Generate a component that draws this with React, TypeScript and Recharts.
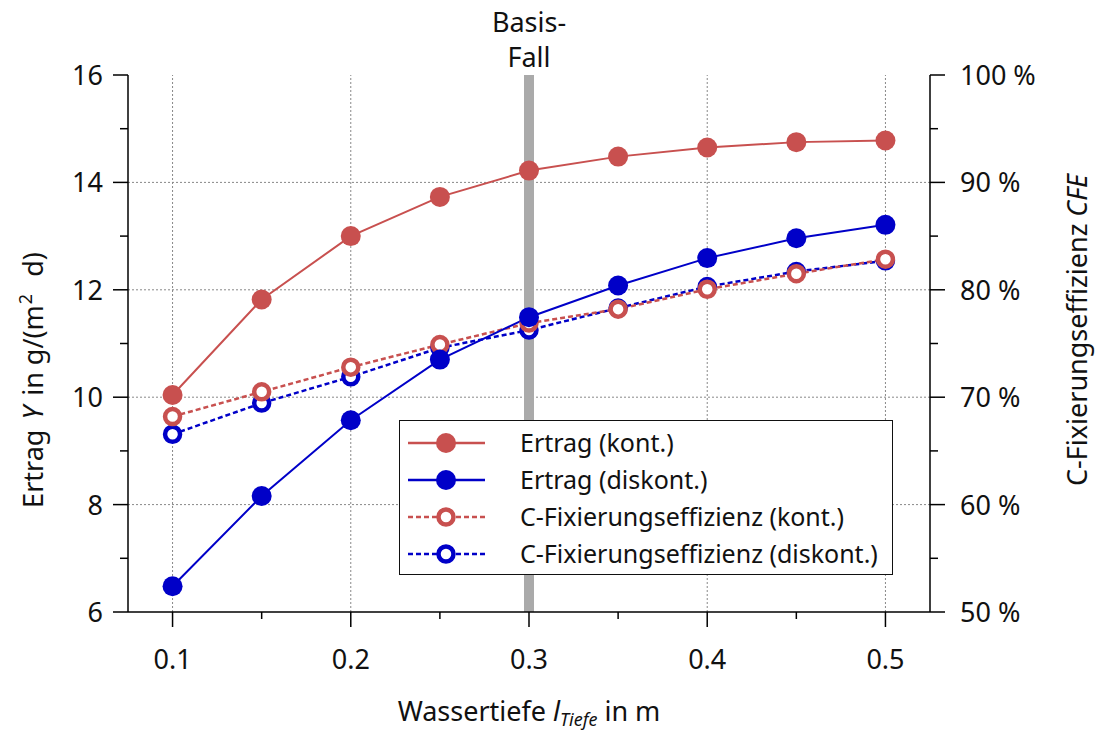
import React from "react";
import {
  ComposedChart,
  Line,
  XAxis,
  YAxis,
  ReferenceLine,
} from "recharts";

const depths = [0.1, 0.15, 0.2, 0.25, 0.3, 0.35, 0.4, 0.45, 0.5];
const ertragKont = [10.04, 11.82, 13.0, 13.73, 14.22, 14.48, 14.65, 14.75, 14.78];
const ertragDiskont = [6.48, 8.16, 9.57, 10.7, 11.49, 12.08, 12.59, 12.96, 13.21];
const cfeKont = [68.2, 70.5, 72.8, 74.9, 76.9, 78.2, 80.05, 81.5, 82.85];
const cfeDiskont = [66.55, 69.45, 71.9, 74.6, 76.25, 78.3, 80.3, 81.7, 82.7];

const xTicks = [0.1, 0.15, 0.2, 0.25, 0.3, 0.35, 0.4, 0.45, 0.5];
const xGrid = [0.1, 0.2, 0.3, 0.4, 0.5];
const leftTicks = [6, 7, 8, 9, 10, 11, 12, 13, 14, 15, 16];
const leftGrid = [8, 10, 12, 14];
const rightTicks = [50, 55, 60, 65, 70, 75, 80, 85, 90, 95, 100];
const baseCase = 0.3;

const RED = "#C8504F";
const BLUE = "#0000C8";
const FONT = "'Noto Sans', 'Open Sans', sans-serif";
const TICK_FS = 27;
const TITLE_FS = 27;
const LEGEND_FS = 25;

const data = depths.map((d, i) => ({
  x: d,
  ertragKont: ertragKont[i],
  ertragDiskont: ertragDiskont[i],
  cfeKont: cfeKont[i],
  cfeDiskont: cfeDiskont[i],
}));

const legendItems = [
  { name: "Ertrag (kont.)", color: RED, dashed: false, filled: true },
  { name: "Ertrag (diskont.)", color: BLUE, dashed: false, filled: true },
  { name: "C-Fixierungseffizienz (kont.)", color: RED, dashed: true, filled: false },
  { name: "C-Fixierungseffizienz (diskont.)", color: BLUE, dashed: true, filled: false },
];

const isMajorX = (v: number) => Math.abs(v * 10 - Math.round(v * 10)) < 1e-6;

const XTick = (props: any) => {
  const { x, y, payload } = props;
  const major = isMajorX(payload.value);
  return (
    <g>
      <line x1={x} x2={x} y1={y} y2={y + (major ? 15 : 7)} stroke="#000" strokeWidth={1.5} />
      {major && (
        <text x={x} y={y + 57} textAnchor="middle" fontFamily={FONT} fontSize={TICK_FS} fill="#111">
          {Number(payload.value).toFixed(1)}
        </text>
      )}
    </g>
  );
};

const LeftTick = (props: any) => {
  const { x, y, payload } = props;
  const major = payload.value % 2 === 0;
  return (
    <g>
      <line x1={x} x2={x - (major ? 15 : 8)} y1={y} y2={y} stroke="#000" strokeWidth={1.5} />
      {major && (
        <text x={x - 25} y={y + 10} textAnchor="end" fontFamily={FONT} fontSize={TICK_FS} fill="#111">
          {payload.value}
        </text>
      )}
    </g>
  );
};

const RightTick = (props: any) => {
  const { x, y, payload } = props;
  const major = payload.value % 10 === 0;
  return (
    <g>
      <line x1={x} x2={x + (major ? 15 : 8)} y1={y} y2={y} stroke="#000" strokeWidth={1.5} />
      {major && (
        <text x={x + 30} y={y + 10} textAnchor="start" fontFamily={FONT} fontSize={TICK_FS} fill="#111">
          {payload.value} %
        </text>
      )}
    </g>
  );
};

const FilledDot = (color: string) => (props: any) => {
  const { cx, cy, index } = props;
  if (cx == null || cy == null) return <g key={index} />;
  return <circle key={index} cx={cx} cy={cy} r={10} fill={color} stroke="none" />;
};

const HollowDot = (color: string) => (props: any) => {
  const { cx, cy, index } = props;
  if (cx == null || cy == null) return <g key={index} />;
  return <circle key={index} cx={cx} cy={cy} r={7.5} fill="#fff" stroke={color} strokeWidth={4.5} />;
};

const BandLabel = (props: any) => {
  const vb = props.viewBox || {};
  const cx = vb.x;
  const top = vb.y;
  return (
    <g>
      <text x={cx} y={top - 43} textAnchor="middle" fontFamily={FONT} fontSize={TICK_FS} fill="#111">
        Basis-
      </text>
      <text x={cx} y={top - 8} textAnchor="middle" fontFamily={FONT} fontSize={TICK_FS} fill="#111">
        Fall
      </text>
    </g>
  );
};

const XTitle = (props: any) => {
  const vb = props.viewBox || {};
  const cx = vb.x + vb.width / 2;
  return (
    <text x={cx} y={721} textAnchor="middle" fontFamily={FONT} fontSize={TITLE_FS} fill="#111">
      <tspan>Wassertiefe </tspan>
      <tspan fontStyle="italic">l</tspan>
      <tspan fontStyle="italic" fontSize={18} dy={5}>Tiefe</tspan>
      <tspan dy={-5}> in m</tspan>
    </text>
  );
};

const LeftTitle = () => {
  const x = 43;
  const y = 380;
  return (
    <text x={x} y={y} transform={`rotate(-90 ${x} ${y})`} textAnchor="middle" fontFamily={FONT} fontSize={TITLE_FS} fill="#111">
      <tspan>Ertrag </tspan>
      <tspan fontStyle="italic" dx={3}>Y</tspan>
      <tspan dx={3}> in g/(m</tspan>
      <tspan fontSize={18} dy={-11} dx={1}>2</tspan>
      <tspan dy={11} dx={10}> d)</tspan>
    </text>
  );
};

const RightTitle = () => {
  const x = 1087;
  const y = 330;
  return (
    <text x={x} y={y} transform={`rotate(-90 ${x} ${y})`} textAnchor="middle" fontFamily={FONT} fontSize={TITLE_FS} fill="#111">
      <tspan>C-Fixierungseffizienz </tspan>
      <tspan fontStyle="italic">CFE</tspan>
    </text>
  );
};

const LegendBox = () => (
  <div
    style={{
      position: "absolute",
      left: 399,
      top: 420,
      width: 494,
      height: 155,
      border: "1.5px solid #111",
      background: "#fff",
      boxSizing: "border-box",
      paddingTop: 3,
      fontFamily: FONT,
      fontSize: LEGEND_FS,
      color: "#111",
    }}
  >
    {legendItems.map((it) => (
      <div key={it.name} style={{ display: "flex", alignItems: "center", height: 37 }}>
        <svg width={90} height={30} style={{ marginLeft: 8, flex: "none" }}>
          <line
            x1={0}
            x2={77}
            y1={15}
            y2={15}
            stroke={it.color}
            strokeWidth={2.5}
            strokeDasharray={it.dashed ? "5 3" : undefined}
          />
          {it.filled ? (
            <circle cx={38} cy={15} r={10} fill={it.color} />
          ) : (
            <circle cx={38} cy={15} r={7.5} fill="#fff" stroke={it.color} strokeWidth={4.5} />
          )}
        </svg>
        <span style={{ marginLeft: 22, whiteSpace: "nowrap", lineHeight: "37px" }}>{it.name}</span>
      </div>
    ))}
  </div>
);

export default function App() {
  return (
    <div style={{ position: "absolute", left: 0, top: 0, width: 1098, height: 733, background: "#fff" }}>
      <ComposedChart
        width={1098}
        height={733}
        data={data}
        margin={{ top: 75, right: 108, bottom: 81, left: 68 }}
      >
        <XAxis
          xAxisId="bottom"
          dataKey="x"
          type="number"
          domain={[0.075, 0.525]}
          ticks={xTicks}
          allowDataOverflow
          height={40}
          tickLine={false}
          tickSize={0}
          tickMargin={0}
          tick={<XTick />}
          axisLine={{ stroke: "#000", strokeWidth: 1.5 }}
          interval={0}
          label={<XTitle />}
        />
        <XAxis
          xAxisId="top"
          orientation="top"
          dataKey="x"
          type="number"
          domain={[0.075, 0.525]}
          height={0}
          tick={false}
          tickLine={false}
          axisLine={{ stroke: "#000", strokeWidth: 1.5 }}
        />
        <YAxis
          yAxisId="left"
          domain={[6, 16]}
          ticks={leftTicks}
          width={60}
          tickLine={false}
          tickSize={0}
          tickMargin={0}
          tick={<LeftTick />}
          interval={0}
          axisLine={{ stroke: "#000", strokeWidth: 1.5 }}
          label={<LeftTitle />}
        />
        <YAxis
          yAxisId="right"
          orientation="right"
          domain={[50, 100]}
          ticks={rightTicks}
          width={60}
          tickLine={false}
          tickSize={0}
          tickMargin={0}
          tick={<RightTick />}
          interval={0}
          axisLine={{ stroke: "#000", strokeWidth: 1.5 }}
          label={<RightTitle />}
        />
        {xGrid.map((v) => (
          <ReferenceLine
            key={`gx${v}`}
            x={v}
            xAxisId="bottom"
            yAxisId="left"
            stroke="#888"
            strokeWidth={1}
            strokeDasharray="2 2"
            zIndex={-50}
          />
        ))}
        {leftGrid.map((v) => (
          <ReferenceLine
            key={`gy${v}`}
            y={v}
            xAxisId="bottom"
            yAxisId="left"
            stroke="#888"
            strokeWidth={1}
            strokeDasharray="2 2"
            zIndex={-50}
          />
        ))}
        <ReferenceLine
          x={baseCase}
          xAxisId="bottom"
          yAxisId="left"
          stroke="#AAAAAA"
          strokeWidth={10}
          zIndex={-40}
          label={<BandLabel />}
        />
        <Line
          xAxisId="bottom"
          yAxisId="right"
          dataKey="cfeDiskont"
          stroke={BLUE}
          strokeWidth={2.5}
          strokeDasharray="5 3"
          dot={HollowDot(BLUE)}
          activeDot={false}
          isAnimationActive={false}
        />
        <Line
          xAxisId="bottom"
          yAxisId="right"
          dataKey="cfeKont"
          stroke={RED}
          strokeWidth={2.5}
          strokeDasharray="5 3"
          dot={HollowDot(RED)}
          activeDot={false}
          isAnimationActive={false}
        />
        <Line
          xAxisId="bottom"
          yAxisId="left"
          dataKey="ertragDiskont"
          stroke={BLUE}
          strokeWidth={2}
          dot={FilledDot(BLUE)}
          activeDot={false}
          isAnimationActive={false}
        />
        <Line
          xAxisId="bottom"
          yAxisId="left"
          dataKey="ertragKont"
          stroke={RED}
          strokeWidth={2}
          dot={FilledDot(RED)}
          activeDot={false}
          isAnimationActive={false}
        />
      </ComposedChart>
      <LegendBox />
    </div>
  );
}
